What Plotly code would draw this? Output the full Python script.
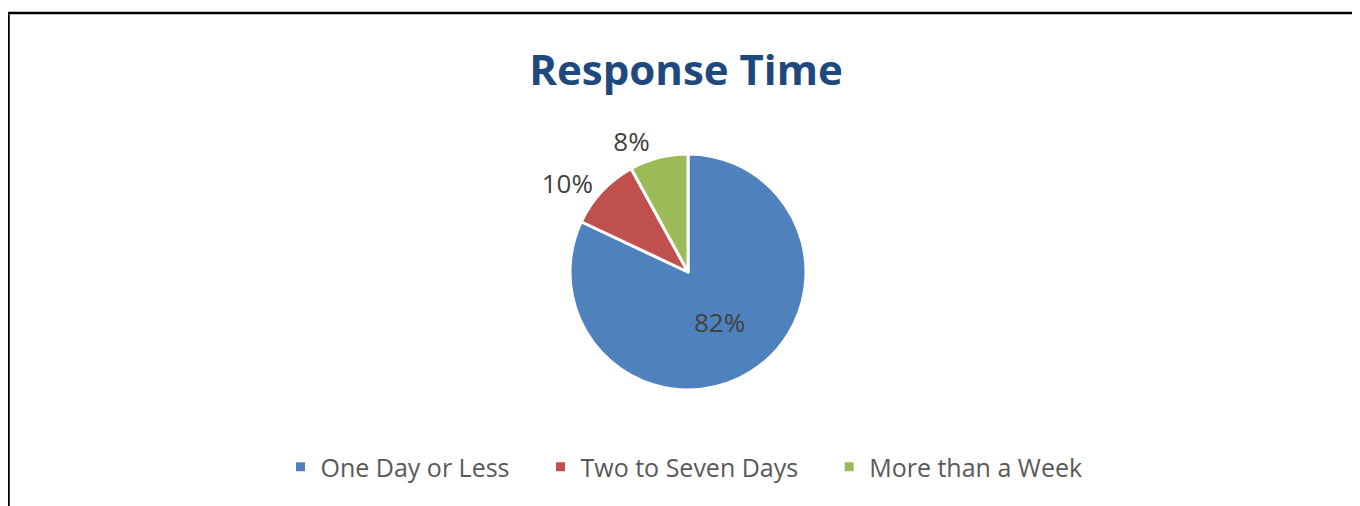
import plotly.graph_objects as go

categories = ["One Day or Less", "Two to Seven Days", "More than a Week"]
values = [82, 10, 8]
colors = ["#4F81BD", "#C0504D", "#9BBB59"]
text_positions = ["inside", "outside", "outside"]
title_text = "Response Time"

OFF = 8  # page body offset of the rendered figure
W, H = 1360 - OFF, 506 - OFF

# legend entries get a little trailing padding to widen the gap between items
legend_pad = "\u00a0" * 4
labels = [c + legend_pad for c in categories[:-1]] + [categories[-1]]

# target geometry in screen pixels
CX, CY, R = 688 - OFF, 272 - OFF, 118


def fx(px):
    return px / W


def fy(py):
    return 1 - py / H


fig = go.Figure(go.Pie(
    labels=labels,
    values=values,
    sort=False,
    direction="clockwise",
    rotation=0,
    domain=dict(x=[fx(CX - R), fx(CX + R)], y=[fy(CY + R), fy(CY - R)]),
    marker=dict(colors=colors, line=dict(color="white", width=3)),
    textinfo="percent",
    texttemplate="%{percent:.0%}",
    textposition=text_positions,
    textfont=dict(family="Open Sans", size=26, color="#404040"),
    insidetextorientation="horizontal",
    showlegend=True,
    hovertemplate="%{label}: %{percent:.0%}<extra></extra>",
))

fig.update_layout(
    width=W, height=H,
    margin=dict(l=0, r=0, t=0, b=0, autoexpand=False),
    paper_bgcolor="white",
    plot_bgcolor="white",
    title=dict(
        text="<b>" + title_text + "</b>",
        font=dict(family="Open Sans", size=42, color="#1F497D"),
        x=fx(686 - OFF), xanchor="center", xref="container",
        y=fy(70 - OFF), yanchor="middle", yref="container",
    ),
    legend=dict(
        orientation="h",
        x=fx(684 - OFF), xanchor="center",
        y=fy(467 - OFF), yanchor="middle",
        font=dict(family="Open Sans", size=25, color="#595959"),
        itemwidth=30,
        traceorder="normal",
        bgcolor="rgba(0,0,0,0)",
    ),
    shapes=[
        dict(type="line", xref="paper", yref="paper",
             x0=fx(8.5 - OFF), x1=fx(8.5 - OFF),
             y0=fy(12 - OFF), y1=fy(H + 10),
             line=dict(color="black", width=2.5)),
        dict(type="line", xref="paper", yref="paper",
             x0=fx(7.5 - OFF), x1=fx(W + 10),
             y0=fy(13 - OFF), y1=fy(13 - OFF),
             line=dict(color="black", width=2.5)),
    ],
)

fig.write_html("out.html")
